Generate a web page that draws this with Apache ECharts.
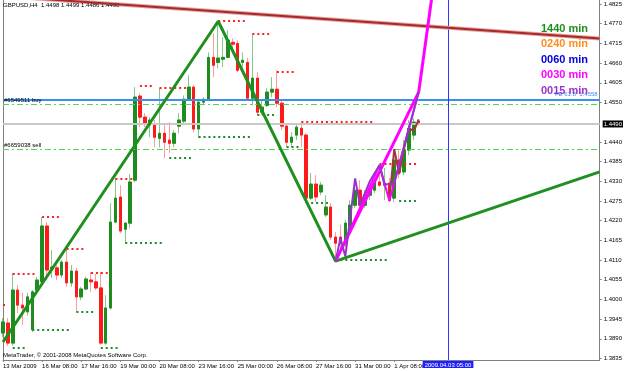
<!DOCTYPE html>
<html><head><meta charset="utf-8">
<script src="https://cdn.jsdelivr.net/npm/echarts@6/dist/echarts.min.js"></script>
<style>html,body{margin:0;padding:0;background:#fff}#c{width:625px;height:371px}</style>
</head><body><div id="c"></div>
<script>
// ---------- data ----------
const slotCount = 123; // H4 bar slots across the window (incl. empty future slots)
const xTickLabels = ['13 Mar 2009','16 Mar 08:00','17 Mar 16:00','19 Mar 00:00','20 Mar 08:00',
  '23 Mar 16:00','25 Mar 00:00','26 Mar 08:00','27 Mar 16:00','31 Mar 00:00','1 Apr 08:00'];
const yTickLabels = ['1.4825','1.4770','1.4715','1.4660','1.4605','1.4550','1.4440','1.4385',
  '1.4330','1.4275','1.4220','1.4165','1.4110','1.4055','1.4000','1.3945','1.3890','1.3835'];
// [open, close, low, high]
const candles = [
 [1.3906,1.3937,1.3895,1.3948],[1.3934,1.3878,1.3870,1.3948],[1.3878,1.4026,1.3870,1.4074],
 [1.4026,1.3984,1.3962,1.4040],[1.3984,1.3976,1.3929,1.4018],[1.3965,1.4007,1.3954,1.4018],
 [1.3915,1.4021,1.3909,1.4026],[1.4026,1.4054,1.4021,1.4063],[1.4049,1.4205,1.4043,1.4230],
 [1.4205,1.4082,1.4054,1.4216],[1.4085,1.4090,1.4060,1.4138],[1.4088,1.4068,1.4054,1.4096],
 [1.4068,1.4104,1.4060,1.4110],[1.4104,1.4046,1.4035,1.4138],[1.4046,1.4079,1.4035,1.4096],
 [1.4079,1.4007,1.3965,1.4088],[1.4007,1.4029,1.3998,1.4035],[1.4029,1.4057,1.4026,1.4063],
 [1.4054,1.4049,1.4021,1.4077],[1.4049,1.4032,1.4026,1.4071],[1.4032,1.3878,1.3873,1.4077],
 [1.3878,1.3976,1.3873,1.4012],[1.3976,1.4216,1.3971,1.4269],[1.4216,1.4283,1.4213,1.4339],
 [1.4286,1.4191,1.4185,1.4319],[1.4196,1.4213,1.4157,1.4216],[1.4213,1.4328,1.4199,1.4350],
 [1.4333,1.4565,1.4328,1.4593],[1.4568,1.4509,1.4481,1.4576],[1.4509,1.4492,1.4481,1.4520],
 [1.4487,1.4501,1.4453,1.4509],[1.4487,1.4453,1.4425,1.4501],[1.4450,1.4464,1.4425,1.4590],
 [1.4464,1.4439,1.4395,1.4492],[1.4445,1.4436,1.4409,1.4495],[1.4436,1.4464,1.4425,1.4473],
 [1.4484,1.4501,1.4464,1.4520],[1.4498,1.4559,1.4489,1.4570],[1.4559,1.4593,1.4556,1.4626],
 [1.4593,1.4476,1.4467,1.4598],[1.4476,1.4551,1.4450,1.4556],[1.4551,1.4559,1.4545,1.4565],
 [1.4559,1.4676,1.4556,1.4690],[1.4676,1.4654,1.4621,1.4743],[1.4662,1.4674,1.4646,1.4774],
 [1.4671,1.4676,1.4649,1.4732],[1.4676,1.4724,1.4674,1.4752],[1.4718,1.4713,1.4688,1.4729],
 [1.4715,1.4640,1.4635,1.4724],[1.4662,1.4668,1.4649,1.4690],[1.4662,1.4562,1.4556,1.4674],
 [1.4562,1.4618,1.4542,1.4743],[1.4618,1.4523,1.4515,1.4635],[1.4523,1.4537,1.4515,1.4556],
 [1.4542,1.4579,1.4537,1.4590],[1.4579,1.4587,1.4565,1.4621],[1.4587,1.4548,1.4537,1.4640],
 [1.4548,1.4484,1.4473,1.4556],[1.4484,1.4439,1.4425,1.4492],[1.4439,1.4453,1.4425,1.4467],
 [1.4459,1.4481,1.4445,1.4487],[1.4478,1.4459,1.4425,1.4495],[1.4459,1.4283,1.4269,1.4464],
 [1.4283,1.4322,1.4277,1.4353],[1.4322,1.4286,1.4272,1.4347],[1.4300,1.4319,1.4291,1.4328],
 [1.4236,1.4258,1.4230,1.4291],[1.4258,1.4174,1.4166,1.4269],[1.4174,1.4157,1.4107,1.4188],
 [1.4174,1.4157,1.4138,1.4208],[1.4157,1.4213,1.4146,1.4222],[1.4202,1.4263,1.4194,1.4277],
 [1.4263,1.4305,1.4255,1.4314],[1.4305,1.4263,1.4250,1.4333],[1.4263,1.4291,1.4255,1.4305],
 [1.4291,1.4305,1.4277,1.4314],[1.4305,1.4328,1.4297,1.4333],[1.4328,1.4319,1.4314,1.4375],
 [1.4319,1.4325,1.4277,1.4367],[1.4325,1.4277,1.4272,1.4339],[1.4283,1.4389,1.4272,1.4411],
 [1.4389,1.4356,1.4339,1.4417],[1.4356,1.4417,1.4347,1.4445],[1.4417,1.4478,1.4403,1.4501],
 [1.4459,1.4495,1.4445,1.4506],[1.4498,1.4490,1.4486,1.4499]
];
// fractal levels: [startBar, endBar, price]
const fractalUp = [[0,1,1.3984],[2,7,1.4071],[8,12,1.4230],[13,17,1.4141],[18,22,1.4074],
  [23,27,1.4336],[28,31,1.4598],[32,38,1.4590],[44,50,1.4777],[51,55,1.4743],[56,60,1.4637],
  [61,76,1.4495],[77,85,1.4378]];
const fractalDown = [[2,5,1.3865],[6,14,1.3915],[15,19,1.3965],[20,24,1.3865],[25,33,1.4157],
  [34,39,1.4397],[40,51,1.4453],[52,56,1.4515],[58,61,1.4425],[62,67,1.4269],[69,79,1.4110],
  [81,85,1.4275]];
// zigzag / trend lines: [bar, price]
const zz1440 = [[0,1.3881],[44,1.4777],[68,1.4107],[122,1.4356]];
const zz0030 = [[68,1.4107],[77,1.4375],[79,1.4275],[85,1.4579]];
const ray0030 = [[68,1.4107],[85,1.4579]];
const proj0030 = [[85,1.4579],[90,1.5073]];
const zz0015 = [[68,1.4107],[69,1.4171],[70,1.4120],[72,1.4338],[73,1.4263],[75,1.4330],[77,1.4375],
  [78,1.4320],[80,1.4325],[85,1.4579]];
const zzRed = [[79,1.4277],[80,1.4420],[81,1.4350],[82,1.4420],[83,1.4478],[84,1.4470],[85,1.4503]];
const trendTop = [[0,1.4847],[122,1.4729]];
const levels = {fe618: 1.4558, buy: 1.4544, sell: 1.4419, bid: 1.4490};
const vLineBar = 91;
const timeframes = ['1440 min','0240 min','0060 min','0030 min','0015 min'];
const tfColors = ['#1f8f1f','#ff8c1a','#0000dd','#ff00ff','#9933cc'];
const headerText = 'GBPUSD,H4  1.4498 1.4499 1.4486 1.4490';
const copyrightText = 'MetaTrader, \u00a9 2001-2008 MetaQuotes Software Corp.';

// ---------- chart ----------
const FONT = 'Liberation Sans, Arial, sans-serif';
const chart = echarts.init(document.getElementById('c'), null, {renderer:'canvas'});
const slots = Array.from({length: slotCount}, (_, i) => String(i));
const tickIdx = idx => idx % 8 === 0 && idx / 8 < xTickLabels.length;
// body-only view of the same candles (wick range clipped to the body) for dark bodies over light wicks
const candleBodies = candles.map(c => [c[0], c[1], Math.min(c[0], c[1]), Math.max(c[0], c[1])]);
const fractalSeries = (arr, color) => ({
  type: 'lines', coordinateSystem: 'cartesian2d', silent: true, z: 4,
  lineStyle: {color, width: 2, type: [2, 2.92], opacity: 1},
  data: arr.map(f => ({coords: [[f[0], f[2]], [f[1] + 0.4, f[2]]]}))
});
const lineSeries = (data, color, width, z) => ({
  type: 'line', data, symbol: 'none', silent: true, z: z || 5,
  lineStyle: {color, width}, clip: true
});

chart.setOption({
  animation: false,
  backgroundColor: '#ffffff',
  title: [
    {text: headerText, left: 3, top: 2, padding: 0, textStyle: {fontSize: 6, fontWeight: 'normal', color: '#000', fontFamily: FONT}},
    {text: copyrightText, left: 3, top: 352, padding: 0, textStyle: {fontSize: 6, fontWeight: 'normal', color: '#000', fontFamily: FONT}}
  ].concat(timeframes.map((t, i) => ({
    text: t, left: 541, top: 23 + i * 15.6, padding: 0,
    textStyle: {fontSize: 11, fontWeight: 'bold', color: tfColors[i], fontFamily: FONT}
  }))),
  grid: {left: 2, right: 23, top: 0, bottom: 11, containLabel: false},
  xAxis: {
    type: 'category', data: slots, boundaryGap: false,
    axisLine: {show: true, lineStyle: {color: '#808080', width: 1}},
    axisTick: {show: true, interval: tickIdx, length: 2, lineStyle: {color: '#808080'}},
    axisLabel: {interval: tickIdx, formatter: (v, i) => xTickLabels[i / 8] || '', align: 'left',
      margin: 3, fontSize: 6, color: '#000', fontFamily: FONT},
    splitLine: {show: false}
  },
  yAxis: [{
    type: 'value', position: 'right', min: 1.38307, max: 1.48363, scale: true,
    axisLine: {show: true, lineStyle: {color: '#808080', width: 1}},
    axisTick: {show: true, length: 2, customValues: yTickLabels.map(Number), lineStyle: {color: '#808080'}},
    axisLabel: {customValues: yTickLabels.map(Number), formatter: v => v.toFixed(4), margin: 4,
      fontSize: 6, color: '#000', fontFamily: FONT},
    splitLine: {show: false}
  }, {
    type: 'value', position: 'left', min: 1.38307, max: 1.48363,
    axisLine: {show: true, lineStyle: {color: '#808080', width: 1}},
    axisTick: {show: false}, axisLabel: {show: false}, splitLine: {show: false}
  }],
  series: [
    {
      type: 'candlestick', data: candles, barWidth: 3, z: 3, silent: true,
      itemStyle: {color: '#86c886', color0: '#ff9a9a', borderColor: '#86c886', borderColor0: '#ff9a9a', borderWidth: 1}
    },
    {
      type: 'candlestick', data: candleBodies, barWidth: 3, z: 3, silent: true,
      itemStyle: {color: '#1e8c1e', color0: '#ff1a1a', borderColor: '#1e8c1e', borderColor0: '#ff1a1a', borderWidth: 1}
    },
    {
      type: 'line', data: [], symbol: 'none', silent: true, z: 2,
      markLine: {
        silent: true, symbol: ['none', 'none'], animation: false, precision: 6,
        data: [
          {yAxis: levels.bid, lineStyle: {color: '#c8c8c8', width: 2, type: 'solid'},
           label: {position: 'end', formatter: levels.bid.toFixed(4), distance: 3, color: '#fff', backgroundColor: '#000',
             padding: [1, 1, 0, 1], fontSize: 6, fontFamily: FONT}},
          {yAxis: levels.fe618, lineStyle: {color: '#3d8cf5', width: 2, type: 'solid'},
           label: {position: 'insideEndTop', formatter: 'FE 61.8  ' + levels.fe618.toFixed(4), distance: 2, color: '#3d8cf5',
             fontSize: 6, fontFamily: FONT}},
          {yAxis: levels.buy, lineStyle: {color: '#55d455', width: 1, type: [6, 3, 2, 3]},
           label: {position: 'insideStartTop', formatter: '#6549511 buy', distance: 1, color: '#000', fontSize: 6, fontFamily: FONT}},
          {yAxis: levels.sell, lineStyle: {color: '#55d455', width: 1, type: [6, 3, 2, 3]},
           label: {position: 'insideStartTop', formatter: '#6659038 sell', distance: 1, color: '#000', fontSize: 6, fontFamily: FONT}},
          {xAxis: vLineBar, lineStyle: {color: '#3333ff', width: 1, type: 'solid'},
           label: {position: 'start', formatter: '2009.04.03 05:00', distance: 1, color: '#fff', backgroundColor: '#2020ff',
             padding: [1, 2, 0, 2], fontSize: 6, fontFamily: FONT}}
        ]
      }
    },
    fractalSeries(fractalUp, '#ff2020'),
    fractalSeries(fractalDown, '#1e8c1e'),
    lineSeries(trendTop, '#e8a0a0', 4, 5),
    lineSeries(trendTop, '#a52a2a', 2, 6),
    lineSeries(zz1440, '#1f8f1f', 3, 7),
    lineSeries(zzRed, '#9c3b3b', 2, 8),
    lineSeries(ray0030, '#ff00ff', 3, 8),
    lineSeries(proj0030, '#ff00ff', 3, 8),
    lineSeries(zz0030, '#ff00ff', 2, 9),
    lineSeries(zz0015, '#9933cc', 2, 10)
  ]
});
</script></body></html>
